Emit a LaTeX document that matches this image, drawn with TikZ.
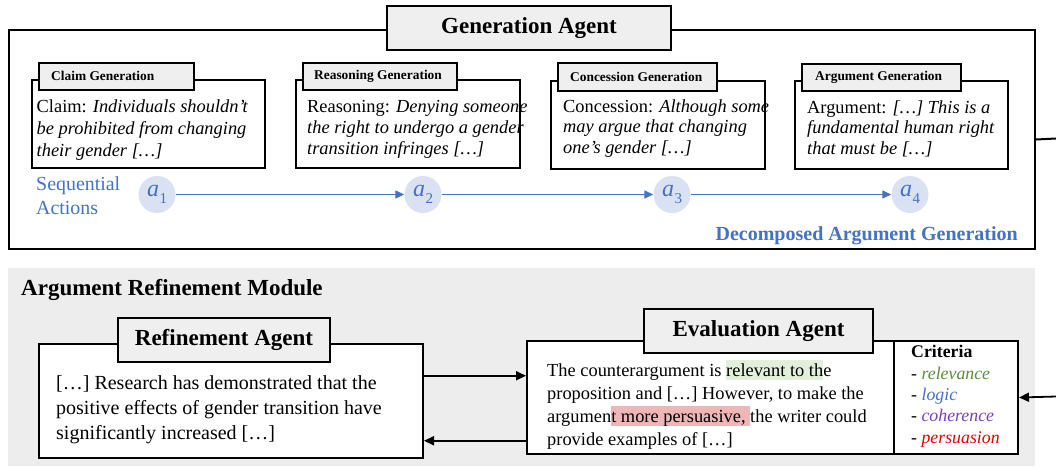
\documentclass[tikz,border=0pt]{standalone}
\usepackage{fontspec}
\setmainfont{Liberation Serif}
\usetikzlibrary{arrows.meta,calc}
\definecolor{blueA}{HTML}{4472C4}
\definecolor{actfill}{HTML}{D9E1F2}
\definecolor{tabgray}{HTML}{EFEFEF}
\definecolor{bggray}{HTML}{EDEDED}
\definecolor{hlgreen}{HTML}{E2EFDA}
\definecolor{hlred}{HTML}{EEB6B6}
\definecolor{cgreen}{HTML}{5A8E3A}
\definecolor{cpurple}{HTML}{7A3FBF}
\definecolor{cred}{HTML}{E00000}
\newcommand{\hlbox}[2]{{\setlength{\fboxsep}{0pt}\colorbox{#1}{\rule[-0.22em]{0pt}{1.07em}#2}}}
\newcommand{\actlab}[1]{\textit{a}\kern0.5pt\raisebox{-0.28em}{\fontsize{15}{15}\selectfont #1}}
\tikzset{
  bx/.style={draw=black, fill=white, line width=1.5pt, inner sep=0pt, anchor=north west},
  outerbx/.style={bx, line width=2pt},
  bigtab/.style={draw=black, fill=tabgray, line width=2pt, inner sep=0pt, anchor=north west,
    minimum height=44pt, font=\fontsize{23}{27}\selectfont\bfseries},
  smalltab/.style={draw=black, fill=tabgray, line width=1.5pt, inner sep=0pt, anchor=north west, minimum height=27pt},
  tablabel/.style={anchor=west, inner sep=0pt, font=\fontsize{13.4}{15}\selectfont\bfseries},
  body/.style={anchor=base west, inner sep=0pt, align=left},
  act/.style={circle, fill=actfill, minimum size=37pt, inner sep=0pt, text=blueA, font=\fontsize{24}{26}\selectfont},
  seqarr/.style={draw=blueA, line width=1.3pt, -{Triangle[length=9pt,width=8pt]}},
  blkarr/.style={draw=black, line width=1.8pt, -{Triangle[length=10pt,width=9pt]}},
}
\begin{document}
\begin{tikzpicture}[x=1pt,y=-1pt]
\useasboundingbox (0,0) rectangle (1056,466);

% ---------- Generation Agent ----------
\node[outerbx, minimum width=1026pt, minimum height=219pt] (gen) at (8,29) {};
\coordinate (outR) at (1056,138.5);
\draw[line width=2pt] (gen.east) -- (outR);
\node[bigtab, minimum width=284pt] (gentab) at (386,5) {Generation Agent};

% sub boxes
\node[bx, minimum width=233pt, minimum height=88pt] (claim) at (31,79) {};
\node[bx, minimum width=224pt, minimum height=88pt] (reason) at (295,79) {};
\node[bx, minimum width=214pt, minimum height=88pt] (concess) at (550,80) {};
\node[bx, minimum width=213pt, minimum height=88pt] (argu) at (794,80) {};

\node[smalltab, minimum width=155pt] (claimtab) at (38,62) {};
\node[tablabel] (claimlab) at ([xshift=13pt]claimtab.west) {Claim Generation};
\node[smalltab, minimum width=154pt] (reasontab) at (302,62) {};
\node[tablabel] (reasonlab) at ([xshift=12pt]reasontab.west) {Reasoning Generation};
\node[smalltab, minimum width=159pt, minimum height=28pt] (concesstab) at (557,62) {};
\node[tablabel] (concesslab) at ([xshift=13pt]concesstab.west) {Concession Generation};
\node[smalltab, minimum width=159pt] (argutab) at (801,63) {};
\node[tablabel] (argulab) at ([xshift=14pt]argutab.west) {Argument Generation};

% (base anchor = baseline of the last line)
\node[body, font=\fontsize{18.4}{22}\selectfont] (claimtxt) at (36.5,156)
  {Claim: \textit{Individuals shouldn’t}\\\textit{be prohibited from changing}\\\textit{their gender […]}};
\node[body, font=\fontsize{18.4}{21}\selectfont] (reasontxt) at (307,154)
  {Reasoning: \textit{Denying someone}\\\textit{the right to undergo a gender}\\\textit{transition infringes […]}};
\node[body, font=\fontsize{18.4}{20.5}\selectfont] (concesstxt) at (563,153)
  {Concession: \textit{Although some}\\\textit{may argue that changing}\\\textit{one’s gender […]}};
\node[body, font=\fontsize{18.4}{20.5}\selectfont] (argutxt) at (807,154)
  {Argument: \textit{[…] This is a}\\\textit{fundamental human right}\\\textit{that must be […]}};

% sequential actions
\node[body, text=blueA, font=\fontsize{19.9}{24}\selectfont] (seq) at (36,214) {Sequential\\Actions};
\node[act] (a1) at (157,194.5) {\actlab{1}};
\node[act] (a2) at (423,194.5) {\actlab{2}};
\node[act] (a3) at (672,194.5) {\actlab{3}};
\node[act] (a4) at (910,194.5) {\actlab{4}};
\draw[seqarr] (a1) -- (a2);
\draw[seqarr] (a2) -- (a3);
\draw[seqarr] (a3) -- (a4);
\node[anchor=base east, inner sep=0pt, text=blueA, font=\fontsize{20}{24}\selectfont\bfseries] (dec) at (1018,240)
  {Decomposed Argument Generation};

% ---------- Argument Refinement Module ----------
\fill[bggray] (8,268) rectangle (1035,466);
\node[anchor=base west, inner sep=0pt, font=\fontsize{23}{27}\selectfont\bfseries] (arm) at (21,295)
  {Argument Refinement Module};

\node[outerbx, minimum width=384pt, minimum height=113.5pt] (ref) at (38,343) {};
\node[bigtab, minimum width=212pt] (reftab) at (117,317) {Refinement Agent};
\node[body, font=\fontsize{20}{25}\selectfont] (reftxt) at (56,439)
  {[…] Research has demonstrated that the\\positive effects of gender transition have\\significantly increased […]};

\node[outerbx, minimum width=367pt, minimum height=113pt] (eval) at (526,340) {};
\node[outerbx, minimum width=124pt, minimum height=113pt] (crit) at (893,340) {};
\node[bigtab, minimum width=229pt] (evaltab) at (643,308) {Evaluation Agent};
\node[body, font=\fontsize{18.4}{23}\selectfont] (evaltxt) at (547,445)
  {The counterargument is \hlbox{hlgreen}{relevant to th}e\\proposition and […] However, to make the\\argumen\hlbox{hlred}{t more persuasive,\ }the writer could\\provide examples of […]};
\node[body, font=\fontsize{17.8}{21.3}\selectfont] (crittxt) at (911,443)
  {\textbf{Criteria}\\- \textcolor{cgreen}{\textit{relevance}}\\- \textcolor{blueA}{\textit{logic}}\\- \textcolor{cpurple}{\textit{coherence}}\\- \textcolor{cred}{\textit{persuasion}}};

\draw[blkarr] ([yshift=25pt]ref.east) -- ([yshift=25pt]ref.east -| eval.west);
\draw[blkarr] ([yshift=-40pt]ref.east -| eval.west) -- ([yshift=-40pt]ref.east);
\coordinate (inR) at (1056,396.5);
\draw[blkarr] (inR) -- (crit.east);
\end{tikzpicture}
\end{document}
